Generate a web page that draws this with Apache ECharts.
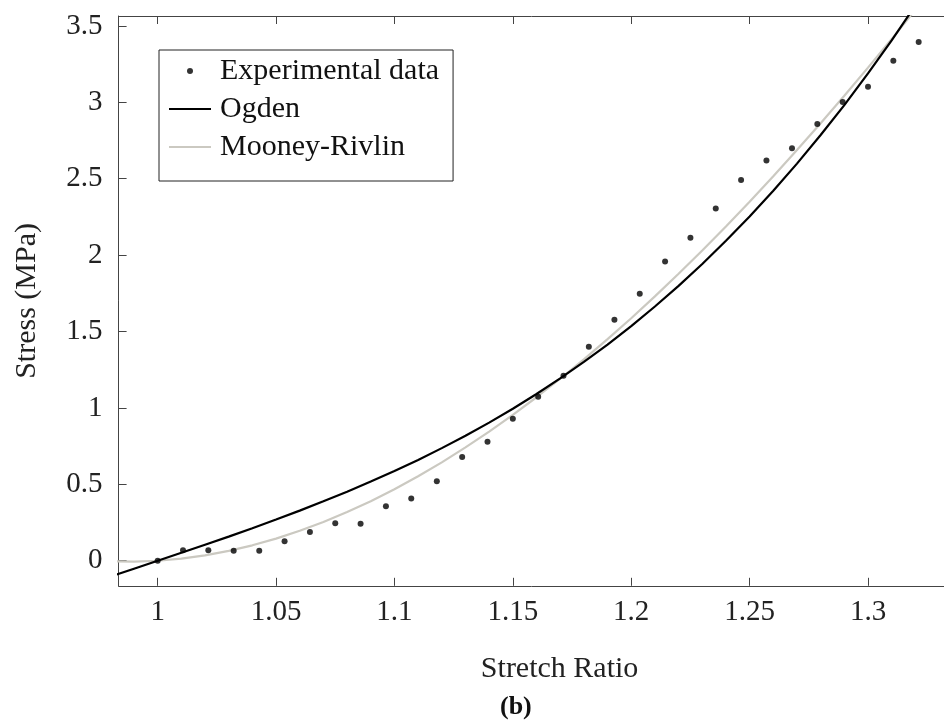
<!DOCTYPE html>
<html>
<head>
<meta charset="utf-8">
<script src="https://cdn.jsdelivr.net/npm/echarts@6/dist/echarts.min.js"></script>
<style>
html,body{margin:0;padding:0;background:#fff;}
#chart{width:944px;height:725px;}
</style>
</head>
<body>
<div id="chart"></div>
<script>
// Experimental data
const expStretch = [1, 1.0107, 1.0214, 1.0321, 1.0429, 1.0536, 1.0643, 1.075, 1.0857, 1.0964, 1.1071, 1.1179, 1.1286, 1.1393, 1.15, 1.1607, 1.1714, 1.1821, 1.1929, 1.2036, 1.2143, 1.225, 1.2357, 1.2464, 1.2571, 1.2679, 1.2786, 1.2893, 1.3, 1.3107, 1.3214];
const expStress = [0, 0.068, 0.068, 0.065, 0.065, 0.127, 0.188, 0.245, 0.242, 0.356, 0.408, 0.52, 0.679, 0.779, 0.929, 1.073, 1.211, 1.40, 1.577, 1.747, 1.959, 2.114, 2.306, 2.491, 2.620, 2.699, 2.858, 3.002, 3.102, 3.272, 3.395];
// Fitted curves (sampled)
const fitStretch = [0.98, 0.99, 1.00, 1.01, 1.02, 1.03, 1.04, 1.05, 1.06, 1.07, 1.08, 1.09, 1.10, 1.11, 1.12, 1.13, 1.14, 1.15, 1.16, 1.17, 1.18, 1.19, 1.20, 1.21, 1.22, 1.23, 1.24, 1.25, 1.26, 1.27, 1.28, 1.29, 1.30, 1.31, 1.32, 1.33];
const ogdenStress = [-0.104, -0.052, 0, 0.052, 0.105, 0.158, 0.213, 0.270, 0.328, 0.389, 0.452, 0.518, 0.587, 0.660, 0.737, 0.818, 0.904, 0.995, 1.091, 1.193, 1.301, 1.415, 1.536, 1.664, 1.799, 1.942, 2.094, 2.253, 2.421, 2.599, 2.786, 2.982, 3.189, 3.406, 3.634, 3.873];
const mooneyStress = [-0.004, -0.006, 0, 0.014, 0.035, 0.065, 0.101, 0.145, 0.196, 0.254, 0.319, 0.390, 0.468, 0.553, 0.644, 0.742, 0.845, 0.955, 1.070, 1.191, 1.318, 1.450, 1.587, 1.730, 1.878, 2.030, 2.188, 2.350, 2.517, 2.688, 2.863, 3.043, 3.227, 3.414, 3.606, 3.801];
const xTicks = [1, 1.05, 1.1, 1.15, 1.2, 1.25, 1.3];
const yTicks = [0, 0.5, 1, 1.5, 2, 2.5, 3, 3.5];

const FONT = '"Liberation Serif", "DejaVu Serif", serif';
const AXIS_COLOR = '#444';
const TEXT_COLOR = '#222';

const zip = (a, b) => a.map((v, i) => [v, b[i]]);

const chart = echarts.init(document.getElementById('chart'), null, {renderer: 'canvas'});
const axisCommon = {
  type: 'value',
  axisLine: {show: true, onZero: false, lineStyle: {color: AXIS_COLOR, width: 1}},
  axisTick: {show: true, inside: true, length: 8, lineStyle: {color: AXIS_COLOR, width: 1}},
  splitLine: {show: false}
};
const hiddenSymbol = {color: 'rgba(0,0,0,0)', borderWidth: 0, opacity: 0};
chart.setOption({
  animation: false,
  backgroundColor: '#fff',
  grid: {left: 118.6, top: 16, width: 882, height: 569.8, containLabel: false, outerBoundsMode: 'none'},
  xAxis: [
    Object.assign({}, axisCommon, {
      min: 0.9835, max: 1.356,
      position: 'bottom',
      axisTick: Object.assign({}, axisCommon.axisTick, {customValues: xTicks}),
      axisLabel: {customValues: xTicks, color: TEXT_COLOR, fontFamily: FONT, fontSize: 29, margin: 12,
        formatter: v => String(+v.toFixed(2))},
      name: 'Stretch Ratio', nameLocation: 'middle', nameGap: 68,
      nameTextStyle: {color: TEXT_COLOR, fontFamily: FONT, fontSize: 30}
    }),
    Object.assign({}, axisCommon, {
      min: 0.9835, max: 1.356,
      position: 'top',
      axisTick: Object.assign({}, axisCommon.axisTick, {customValues: xTicks}),
      axisLabel: {show: false}
    })
  ],
  yAxis: [
    Object.assign({}, axisCommon, {
      min: -0.164, max: 3.565,
      axisTick: Object.assign({}, axisCommon.axisTick, {customValues: yTicks}),
      axisLabel: {customValues: yTicks, color: TEXT_COLOR, fontFamily: FONT, fontSize: 29, margin: 16,
        formatter: v => String(+v.toFixed(2))},
      name: 'Stress (MPa)', nameLocation: 'middle', nameGap: 76,
      nameTextStyle: {color: TEXT_COLOR, fontFamily: FONT, fontSize: 30}
    })
  ],
  legend: {
    orient: 'vertical', left: 159, top: 50,
    backgroundColor: '#fff', borderColor: '#222', borderWidth: 1,
    padding: [4, 14, 17, 9], itemGap: 4, itemWidth: 42, itemHeight: 6,
    textStyle: {color: '#111', fontFamily: FONT, fontSize: 30, lineHeight: 34, padding: [0, 0, 0, 4]},
    data: [
      {name: 'Experimental data', icon: 'circle'},
      {name: 'Ogden', itemStyle: hiddenSymbol},
      {name: 'Mooney-Rivlin', itemStyle: hiddenSymbol}
    ]
  },
  series: [
    {name: 'Mooney-Rivlin', type: 'line', data: zip(fitStretch, mooneyStress), showSymbol: false, symbol: 'none',
      lineStyle: {color: '#cbc9c1', width: 2.2}, itemStyle: {color: '#cbc9c1'}, clip: true, z: 2},
    {name: 'Ogden', type: 'line', data: zip(fitStretch, ogdenStress), showSymbol: false, symbol: 'none',
      lineStyle: {color: '#000', width: 2.2}, itemStyle: {color: '#000'}, clip: true, z: 3},
    {name: 'Experimental data', type: 'scatter', data: zip(expStretch, expStress), symbol: 'circle', symbolSize: 6,
      itemStyle: {color: '#000'}, z: 4}
  ],
  graphic: [
    {type: 'text', left: 500, top: 694, style: {text: '(b)', font: 'bold 26px ' + FONT, fill: '#111'}}
  ]
});
</script>
</body>
</html>
